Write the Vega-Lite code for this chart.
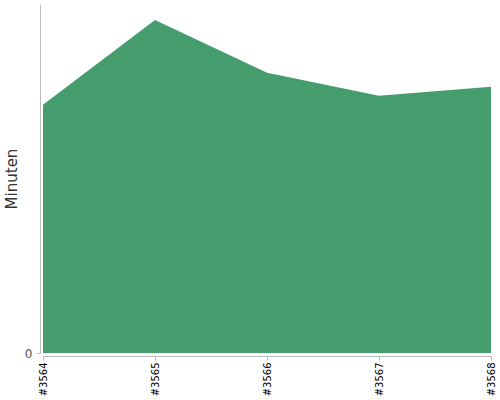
{
  "$schema": "https://vega.github.io/schema/vega-lite/v6.json",
  "autosize": "none",
  "padding": {"left": 43, "top": 4, "right": 9, "bottom": 47},
  "width": 448,
  "height": 349,
  "data": {
    "values": [
      {"build": "#3564", "minuten": 24.9},
      {"build": "#3565", "minuten": 33.4},
      {"build": "#3566", "minuten": 28.1},
      {"build": "#3567", "minuten": 25.8},
      {"build": "#3568", "minuten": 26.7}
    ]
  },
  "mark": {"type": "area", "color": "#459c6c", "opacity": 1},
  "encoding": {
    "x": {
      "field": "build",
      "type": "ordinal",
      "scale": {"type": "point", "padding": 0},
      "axis": {
        "title": null,
        "labelAngle": -90,
        "labelColor": "black",
        "labelFont": "DejaVu Sans",
        "labelFontSize": 10,
        "offset": 3,
        "domainColor": "#bbbbbb",
        "tickColor": "#bbbbbb",
        "tickSize": 4,
        "grid": false
      }
    },
    "y": {
      "field": "minuten",
      "type": "quantitative",
      "scale": {"domain": [0, 35], "nice": false},
      "axis": {
        "title": "Minuten",
        "titleFont": "DejaVu Sans",
        "titleFontSize": 15,
        "titleFontWeight": "normal",
        "titleColor": "#333333",
        "titlePadding": 5,
        "values": [0],
        "labelFont": "DejaVu Sans",
        "labelFontSize": 12,
        "labelColor": "#555555",
        "labelPadding": 4,
        "offset": 3,
        "domainColor": "#bbbbbb",
        "tickColor": "#bbbbbb",
        "tickSize": 4,
        "grid": false
      }
    }
  },
  "config": {"view": {"stroke": null}}
}
